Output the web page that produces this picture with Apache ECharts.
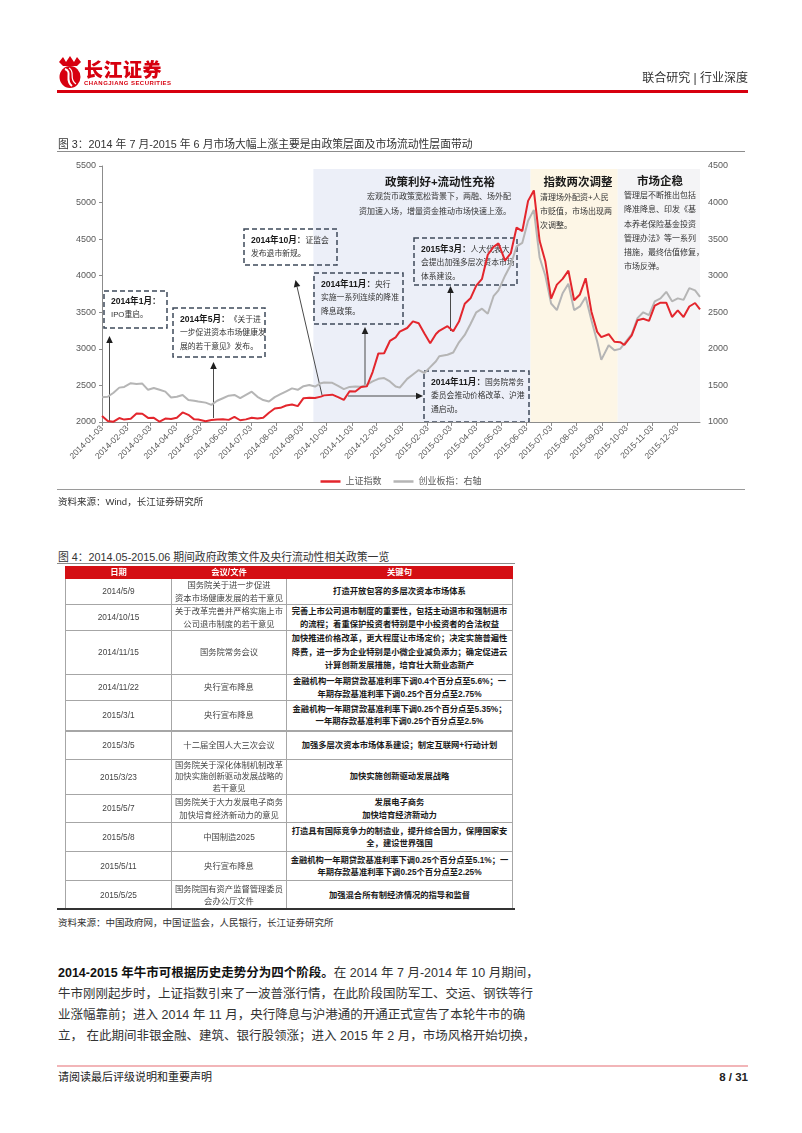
<!DOCTYPE html>
<html><head><meta charset="utf-8">
<script src="https://cdn.jsdelivr.net/npm/echarts@6/dist/echarts.min.js"></script>
<style>
html,body{margin:0;padding:0;background:#fff;}
body{width:802px;height:1133px;position:relative;overflow:hidden;font-family:"Liberation Sans","Noto Sans CJK SC",sans-serif;color:#333;}
.abs{position:absolute;white-space:nowrap;}
#chart{position:absolute;left:0;top:0;width:802px;height:500px;}
table.pol{position:absolute;left:65px;top:566px;width:447px;border-collapse:collapse;table-layout:fixed;font-size:8.3px;}
table.pol td,table.pol th{border:1px solid #a6a6a6;text-align:center;vertical-align:middle;padding:0;line-height:12.5px;color:#444;white-space:nowrap;overflow:hidden;}
table.pol th{background:#d40f14;color:#fff;font-weight:bold;height:11px;line-height:11px;border-color:#d40f14;}
table.pol td.k{font-weight:bold;color:#1a1a1a;}
table.pol tr.thick td{border-top:2px solid #a6a6a6;}
.body{position:absolute;left:58px;width:466px;font-size:12.5px;line-height:21px;color:#333;}
.body div{text-align:justify;text-align-last:justify;white-space:nowrap;}
</style></head>
<body>
<div id="chart"></div>

<svg class="abs" style="left:56px;top:55px" width="28" height="34" viewBox="0 0 28 34">
 <path d="M3 7 L7 2 L10 7 L14 1 L18 7 L21 2 L25 7 L21 11 L7 11 Z" fill="#d7000f"/>
 <ellipse cx="14" cy="22" rx="10.5" ry="11" fill="#d7000f"/>
 <path d="M9 14 C17 17,8 25,16 31" stroke="#fff" stroke-width="2" fill="none"/>
 <path d="M13 13 C20 17,12 24,20 29" stroke="#fff" stroke-width="1.2" fill="none"/>
</svg>
<div class="abs" style="left:84px;top:59px;font-size:19px;font-weight:900;color:#d7000f;letter-spacing:0.5px;font-family:'Noto Sans CJK SC',sans-serif;line-height:20px;">长江证券</div>
<div class="abs" style="left:84px;top:80px;font-size:6px;font-weight:bold;color:#d7000f;letter-spacing:0.45px;line-height:6px;">CHANGJIANG SECURITIES</div>
<div class="abs" style="right:54px;top:71px;font-size:12px;color:#333;line-height:15px;">联合研究 | 行业深度</div>
<div class="abs" style="left:57px;top:90px;width:691px;height:2.5px;background:#d7000f;"></div>

<div class="abs" style="left:58px;top:137px;font-size:10.8px;line-height:14px;color:#333;">图 3：2014 年 7 月-2015 年 6 月市场大幅上涨主要是由政策层面及市场流动性层面带动</div>
<div class="abs" style="left:57px;top:151px;width:688px;height:1.3px;background:#8c8c8c;"></div>
<div class="abs" style="left:57px;top:489px;width:688px;height:1px;background:#9a9a9a;"></div>
<div class="abs" style="left:58px;top:496px;font-size:9.5px;line-height:12px;color:#333;">资料来源：Wind，长江证券研究所</div>

<div class="abs" style="left:58px;top:550px;font-size:10.8px;line-height:14px;color:#333;">图 4：2014.05-2015.06 期间政府政策文件及央行流动性相关政策一览</div>
<div class="abs" style="left:57px;top:563px;width:458px;height:1.3px;background:#8c8c8c;"></div>
<table class="pol" id="pol"></table>
<div class="abs" style="left:57px;top:908px;width:458px;height:2px;background:#333;"></div>
<div class="abs" style="left:58px;top:917px;font-size:9.5px;line-height:12px;color:#333;">资料来源：中国政府网，中国证监会，人民银行，长江证券研究所</div>

<div class="body" style="top:963px;">
<div><b style="color:#111">2014-2015 年牛市可根据历史走势分为四个阶段。</b>在 2014 年 7 月-2014 年 10 月期间，</div>
<div>牛市刚刚起步时，上证指数引来了一波普涨行情，在此阶段国防军工、交运、钢铁等行</div>
<div>业涨幅靠前；进入 2014 年 11 月，央行降息与沪港通的开通正式宣告了本轮牛市的确</div>
<div>立， 在此期间非银金融、建筑、银行股领涨；进入 2015 年 2 月，市场风格开始切换，</div>
</div>

<div class="abs" style="left:57px;top:1065px;width:691px;height:2px;background:#f2b5b8;"></div>
<div class="abs" style="left:58px;top:1070px;font-size:11px;line-height:14px;color:#222;">请阅读最后评级说明和重要声明</div>
<div class="abs" style="right:54px;top:1070px;font-size:11.5px;line-height:14px;font-weight:bold;color:#222;">8 / 31</div>

<script>
// ---------------- chart data ----------------
const weekDates = [
 '2014-01-03','2014-01-10','2014-01-17','2014-01-24','2014-01-30',
 '2014-02-07','2014-02-14','2014-02-21','2014-02-28',
 '2014-03-07','2014-03-14','2014-03-21','2014-03-28',
 '2014-04-04','2014-04-11','2014-04-18','2014-04-25','2014-04-30',
 '2014-05-09','2014-05-16','2014-05-23','2014-05-30',
 '2014-06-06','2014-06-13','2014-06-20','2014-06-27',
 '2014-07-04','2014-07-11','2014-07-18','2014-07-25',
 '2014-08-01','2014-08-08','2014-08-15','2014-08-22','2014-08-29',
 '2014-09-05','2014-09-12','2014-09-19','2014-09-26','2014-09-30',
 '2014-10-10','2014-10-17','2014-10-24','2014-10-31',
 '2014-11-07','2014-11-14','2014-11-21','2014-11-28',
 '2014-12-05','2014-12-12','2014-12-19','2014-12-26','2014-12-31',
 '2015-01-09','2015-01-16','2015-01-23','2015-01-30',
 '2015-02-06','2015-02-13','2015-02-17','2015-02-27',
 '2015-03-06','2015-03-13','2015-03-20','2015-03-27',
 '2015-04-03','2015-04-10','2015-04-17','2015-04-24','2015-04-30',
 '2015-05-08','2015-05-15','2015-05-22','2015-05-29',
 '2015-06-05','2015-06-12','2015-06-19','2015-06-26',
 '2015-07-03','2015-07-10','2015-07-17','2015-07-24','2015-07-31',
 '2015-08-07','2015-08-14','2015-08-21','2015-08-28',
 '2015-09-02','2015-09-11','2015-09-18','2015-09-25','2015-09-30',
 '2015-10-09','2015-10-16','2015-10-23','2015-10-30',
 '2015-11-06','2015-11-13','2015-11-20','2015-11-27',
 '2015-12-04','2015-12-11','2015-12-18','2015-12-25','2015-12-31'
];
const shIndex = [
 2083,2013,2004,2054,2033,
 2044,2115,2113,2056,
 2057,2004,2047,2041,
 2058,2131,2098,2036,2033,
 2011,2026,2035,2039,
 2029,2070,2024,2036,
 2059,2047,2059,2127,
 2185,2194,2226,2240,2217,
 2326,2331,2329,2347,2364,
 2374,2341,2302,2420,
 2418,2478,2487,2683,
 2938,2940,3108,3157,3235,
 3285,3376,3351,3210,
 3076,3203,3247,3310,
 3241,3373,3617,3691,
 3864,3958,4287,4394,4442,
 4205,4308,4658,4611,
 5023,5166,4478,4193,
 3687,3878,3957,4070,3664,
 3744,3965,3508,3232,
 3160,3200,3097,3092,3053,
 3183,3391,3412,3383,
 3590,3632,3631,3436,
 3525,3435,3579,3627,3539
];
const cybIndex = [
 1340,1345,1400,1470,1480,
 1530,1520,1525,1440,
 1465,1440,1415,1335,
 1345,1370,1300,1290,1280,
 1265,1235,1290,1325,
 1360,1370,1325,1370,
 1415,1345,1300,1280,
 1340,1380,1420,1460,1440,
 1490,1505,1485,1530,1540,
 1535,1495,1450,1480,
 1485,1483,1510,1555,
 1590,1600,1555,1485,1470,
 1590,1650,1710,1670,
 1750,1830,1900,1920,
 1950,2090,2190,2340,
 2500,2550,2480,2720,2800,
 3000,3150,3400,3450,
 3750,3900,3250,3000,
 2620,2530,2760,2890,2530,
 2580,2710,2390,2100,
 1850,2050,1980,2000,2070,
 2200,2420,2500,2460,
 2650,2690,2780,2650,
 2690,2670,2830,2800,2710
];
const xTickLabels = [
 '2014-01-03','2014-02-03','2014-03-03','2014-04-03','2014-05-03','2014-06-03',
 '2014-07-03','2014-08-03','2014-09-03','2014-10-03','2014-11-03','2014-12-03',
 '2015-01-03','2015-02-03','2015-03-03','2015-04-03','2015-05-03','2015-06-03',
 '2015-07-03','2015-08-03','2015-09-03','2015-10-03','2015-11-03','2015-12-03'
];
const xRange = ['2014-01-03','2015-12-31'];
const phaseBounds = ['2014-09-17','2015-06-08','2015-09-22','2015-12-31'];
const phaseColors = ['#eceff8','#fdf6e6','#f4f4f6'];
const leftAxis = [2000, 5500, 500];
const rightAxis = [1000, 4500, 500];
const seriesNames = ['上证指数','创业板指：右轴'];

// ---------------- table data ----------------
const tblHead = ['日期','会议/文件','关键句'];
const tblDates = ['2014/5/9','2014/10/15','2014/11/15','2014/11/22','2015/3/1','2015/3/5','2015/3/23','2015/5/7','2015/5/8','2015/5/11','2015/5/25'];
const tblDocs = [
 '国务院关于进一步促进<br>资本市场健康发展的若干意见',
 '关于改革完善并严格实施上市<br>公司退市制度的若干意见',
 '国务院常务会议',
 '央行宣布降息',
 '央行宣布降息',
 '十二届全国人大三次会议',
 '国务院关于深化体制机制改革<br>加快实施创新驱动发展战略的<br>若干意见',
 '国务院关于大力发展电子商务<br>加快培育经济新动力的意见',
 '中国制造2025',
 '央行宣布降息',
 '国务院国有资产监督管理委员<br>会办公厅文件'
];
const tblKeys = [
 '打造开放包容的多层次资本市场体系',
 '完善上市公司退市制度的重要性，包括主动退市和强制退市<br>的流程；着重保护投资者特别是中小投资者的合法权益',
 '加快推进价格改革，更大程度让市场定价；决定实施普遍性<br>降费，进一步为企业特别是小微企业减负添力；确定促进云<br>计算创新发展措施，培育壮大新业态新产',
 '金融机构一年期贷款基准利率下调0.4个百分点至5.6%；一<br>年期存款基准利率下调0.25个百分点至2.75%',
 '金融机构一年期贷款基准利率下调0.25个百分点至5.35%；<br>一年期存款基准利率下调0.25个百分点至2.5%',
 '加强多层次资本市场体系建设；制定互联网+行动计划',
 '加快实施创新驱动发展战略',
 '发展电子商务<br>加快培育经济新动力',
 '打造具有国际竞争力的制造业，提升综合国力，保障国家安<br>全，建设世界强国',
 '金融机构一年期贷款基准利率下调0.25个百分点至5.1%；一<br>年期存款基准利率下调0.25个百分点至2.25%',
 '加强混合所有制经济情况的指导和监督'
];

// layout of table rows (pixels)
const rowH = [25.5,26,44,25,30,29,35,28,29,29,29];
(function buildTable(){
  let h = '<colgroup><col style="width:106px"><col style="width:115px"><col style="width:226px"></colgroup>';
  h += '<tr>' + tblHead.map(t=>'<th>'+t+'</th>').join('') + '</tr>';
  for (let i=0;i<tblDates.length;i++){
    const lh = (i===6) ? ' style="line-height:11.3px"' : (i===2 ? ' style="line-height:13.5px"' : '');
    h += '<tr'+(i===5?' class="thick"':'')+' style="height:'+rowH[i]+'px"><td>'+tblDates[i]+'</td><td'+lh+'>'+tblDocs[i]+'</td><td class="k"'+lh+'>'+tblKeys[i]+'</td></tr>';
  }
  document.getElementById('pol').innerHTML = h;
})();

// ---------------- chart ----------------
function ts(s){ const p=s.split('-').map(Number); return Date.UTC(p[0],p[1]-1,p[2]); }
function pad(n){ return (n<10?'0':'')+n; }
function fmtDate(v){ const d=new Date(v); return d.getUTCFullYear()+'-'+pad(d.getUTCMonth()+1)+'-'+pad(d.getUTCDate()); }
const FF = '"Liberation Sans","Noto Sans CJK SC",sans-serif';

const shData = weekDates.map((d,i)=>[ts(d), shIndex[i]]);
const cybData = weekDates.map((d,i)=>[ts(d), cybIndex[i]]);
const tickTs = xTickLabels.map(ts);

const areas = [];
for (let i=0;i<phaseColors.length;i++){
  areas.push([{xAxis: ts(phaseBounds[i]), yAxis: 5460, itemStyle:{color: phaseColors[i]}},
              {xAxis: ts(phaseBounds[i+1]), yAxis: leftAxis[0]}]);
}

// annotation helpers (pixel layout)
const GZ = 3;
const BOX = '#3e4a5a';
function box(x,y,w,h){ return {type:'rect', silent:true, z:GZ, shape:{x:x,y:y,width:w,height:h},
  style:{fill:'none', stroke:BOX, lineWidth:1.5, lineDash:[5,3]}}; }
const rich = {
  b:{fontWeight:'bold', fontSize:8.6, fill:'#1a1a1a', lineHeight:13.5, fontFamily:FF},
  n:{fontSize:7.8, fill:'#333', lineHeight:13.5, fontFamily:FF}
};
function note(x,y,lines){ return {type:'text', silent:true, z:GZ, x:x, y:y,
  style:{text: lines.join('\n'), rich: rich, verticalAlign:'top', align:'left', fontFamily:FF}}; }
function plain(x,y,lines,opt){ opt=opt||{};
  return {type:'text', silent:true, z:GZ, x:x, y:y,
  style:{text: lines.join('\n'), fontSize: opt.fs||8, fontWeight: opt.fw||'normal', fill: opt.c||'#333',
    lineHeight: opt.lh||14.3, align: opt.al||'left', verticalAlign:'middle', fontFamily:FF}}; }
function arrow(x1,y1,x2,y2){
  const dx=x2-x1, dy=y2-y1, L=Math.sqrt(dx*dx+dy*dy), ux=dx/L, uy=dy/L;
  const bx=x2-ux*7, by=y2-uy*7, px=-uy*3.3, py=ux*3.3;
  return [
    {type:'line', silent:true, z:GZ, shape:{x1:x1,y1:y1,x2:bx,y2:by}, style:{stroke:'#4a4a4a', lineWidth:1}},
    {type:'polygon', silent:true, z:GZ, shape:{points:[[x2,y2],[bx+px,by+py],[bx-px,by-py]]}, style:{fill:'#1f1f1f'}}
  ];
}

const graphics = [].concat(
  box(104,291,63,37),
  note(111,295,['{b|2014年1月：}','{n|IPO重启。}']),
  arrow(109.5,421,109.5,336),
  box(173,308,92,49),
  note(180,313,['{b|2014年5月：}{n|《关于进}','{n|一步促进资本市场健康发}','{n|展的若干意见》发布。}']),
  arrow(213.5,418,213.5,362),
  box(244,229,93,36),
  note(251,234,['{b|2014年10月：}{n|证监会}','{n|发布退市新规。}']),
  arrow(322,395,295.5,280),
  box(314,273,89,51),
  note(321,278,['{b|2014年11月：}{n|央行}','{n|实施一系列连续的降准}','{n|降息政策。}']),
  arrow(365,387,365,327),
  box(424,371,105,51),
  note(431,376,['{b|2014年11月：}{n|国务院常务}','{n|委员会推动价格改革、沪港}','{n|通启动。}']),
  arrow(348,396,423,396),
  box(414,238,103,47),
  note(421,243,['{b|2015年3月：}{n|人大代表大}','{n|会提出加强多层次资本市场}','{n|体系建设。}']),
  arrow(450.5,331,450.5,286),
  plain(440,183,['政策利好+流动性充裕'],{fs:11.5,fw:'bold',c:'#1a1a1a',al:'center'}),
  plain(511,197,['宏观货币政策宽松背景下，两融、场外配'],{al:'right'}),
  plain(511,212,['资加速入场，增量资金推动市场快速上涨。'],{al:'right'}),
  plain(578,183,['指数两次调整'],{fs:11.5,fw:'bold',c:'#1a1a1a',al:'center'}),
  plain(540,212,['清理场外配资+人民','市贬值，市场出现两','次调整。'],{lh:14.2}),
  plain(660,182,['市场企稳'],{fs:11.5,fw:'bold',c:'#1a1a1a',al:'center'}),
  plain(624,231.5,['管理层不断推出包括','降准降息、印发《基','本养老保险基金投资','管理办法》等一系列','措施，最终估值修复，','市场反弹。'],{lh:14.2})
);

const chart = echarts.init(document.getElementById('chart'), null, {renderer:'canvas'});
chart.setOption({
  animation:false,
  textStyle:{fontFamily:FF},
  grid:{left:102, right:102, top:166, bottom:78, containLabel:false},
  legend:{data:seriesNames, left:'center', top:472, icon:'rect', itemWidth:20, itemHeight:2.5, itemGap:12,
    textStyle:{fontSize:9, color:'#595959', fontFamily:FF}},
  xAxis:{type:'value', z:4, min:ts(xRange[0]), max:ts(xRange[1]),
    axisLine:{show:true, onZero:false, lineStyle:{color:'#8c8c8c', width:1}},
    axisTick:{show:true, length:4, customValues:tickTs, lineStyle:{color:'#8c8c8c'}},
    axisLabel:{customValues:tickTs, rotate:45, fontSize:8.5, color:'#595959', margin:5, fontFamily:FF,
      formatter:function(v){ return fmtDate(v); }},
    splitLine:{show:false}},
  yAxis:[
    {type:'value', z:4, min:leftAxis[0], max:leftAxis[1], interval:leftAxis[2],
     axisLine:{show:true, lineStyle:{color:'#8c8c8c'}}, axisTick:{show:true, length:3, lineStyle:{color:'#8c8c8c'}},
     axisLabel:{fontSize:9, color:'#595959', margin:6, fontFamily:FF, formatter:function(v){return String(v);}}, splitLine:{show:false}},
    {type:'value', z:4, position:'right', min:rightAxis[0], max:rightAxis[1], interval:rightAxis[2],
     axisLine:{show:false}, axisTick:{show:false},
     axisLabel:{fontSize:9, color:'#595959', margin:8, fontFamily:FF, formatter:function(v){return String(v);}}, splitLine:{show:false}}
  ],
  series:[
    {name:'phases', type:'line', data:[], z:0, silent:true,
     markArea:{silent:true, z:1, data:areas}},
    {name:seriesNames[1], type:'line', yAxisIndex:1, data:cybData, symbol:'none', z:5,
     lineStyle:{width:2, color:'#b5b5b5'}, itemStyle:{color:'#b5b5b5'}},
    {name:seriesNames[0], type:'line', yAxisIndex:0, data:shData, symbol:'none', z:6,
     lineStyle:{width:2, color:'#e3262d'}, itemStyle:{color:'#e3262d'}}
  ],
  graphic: graphics
});
</script>
</body></html>
